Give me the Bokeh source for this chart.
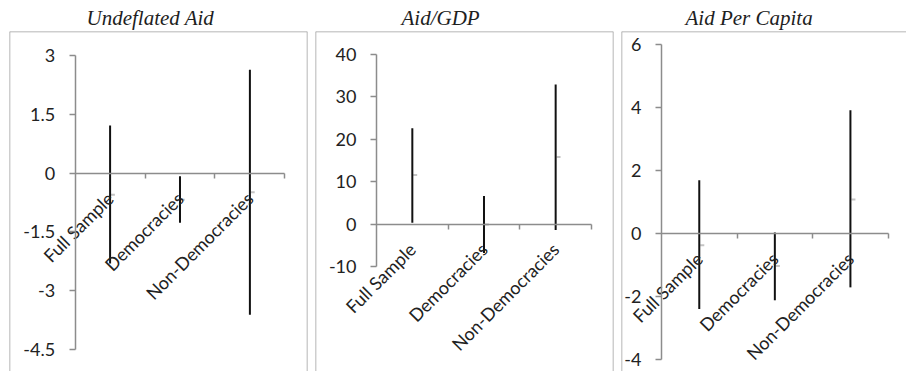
from math import pi

from bokeh.embed import file_html
from bokeh.layouts import row
from bokeh.models import (ColumnDataSource, CustomJSTickFormatter, FixedTicker,
                          LinearAxis, NumeralTickFormatter, Range1d, Span)
from bokeh.plotting import figure
from bokeh.resources import INLINE
from bokeh.transform import dodge

# ---- data -------------------------------------------------------------
categories = ["Full Sample", "Democracies", "Non-Democracies"]

undeflated_low = [-2.31, -1.27, -3.62]
undeflated_high = [1.22, -0.08, 2.65]
undeflated_est = [-0.55, -0.68, -0.49]
undeflated_ticks = [-4.5, -3, -1.5, 0, 1.5, 3]

gdp_low = [0.3, -6.8, -1.4]
gdp_high = [22.6, 6.6, 32.9]
gdp_est = [11.6, -0.1, 15.8]
gdp_ticks = [-10, 0, 10, 20, 30, 40]

pc_low = [-2.40, -2.12, -1.71]
pc_high = [1.69, 0.03, 3.91]
pc_est = [-0.37, -1.03, 1.08]
pc_ticks = [-4, -2, 0, 2, 4, 6]

titles = ["Undeflated Aid", "Aid/GDP", "Aid Per Capita"]

# ---- styling ----------------------------------------------------------
AXIS_GREY = "#8c8c8c"
BOX_GREY = "#9e9e9e"
TEXT = "#222222"
LABEL_FONT = "Lato"
LABEL_SIZE = "18px"

xs = [i + 1 for i in range(len(categories))]
bounds_x = (xs[0] - 0.5, xs[-1] + 0.5)
boundaries = [x + 0.5 for x in xs]


def panel(title, low, high, est, ticks, x_range, y_range, width,
          border_left, border_right, title_offset, right_edge=True):
    p = figure(width=width, height=371,
               x_range=Range1d(*x_range), y_range=Range1d(*y_range),
               x_axis_location=None, y_axis_location=None,
               toolbar_location=None, output_backend="svg",
               min_border_left=border_left, min_border_right=border_right,
               min_border_top=31, min_border_bottom=0)
    p.grid.visible = False
    p.outline_line_color = None
    p.background_fill_color = "white"
    p.border_fill_color = "white"

    p.title.text = title
    p.title.align = "left"
    p.title.offset = title_offset
    p.title.standoff = 4
    p.title.text_font = "Liberation Serif"
    p.title.text_font_style = "italic"
    p.title.text_font_size = "21px"
    p.title.text_color = "#1e1e1e"

    # chart-area box (open at the bottom)
    box = dict(line_color=BOX_GREY, line_width=1.5)
    p.add_layout(Span(location=y_range[1], dimension="width", **box))
    p.add_layout(Span(location=x_range[0], dimension="height", **box))
    if right_edge:
        p.add_layout(Span(location=x_range[1], dimension="height", **box))

    src = ColumnDataSource(dict(x=xs, low=low, high=high, est=est))
    p.scatter(x=dodge("x", 0.04), y="est", marker="dash", size=4,
              line_width=2, line_color="#c4c4c4", source=src)
    p.segment(x0="x", y0="low", x1="x", y1="high", line_color="#111111",
              line_width=2, source=src)

    # value axis, crossing the category axis at its left edge
    yaxis = LinearAxis(fixed_location=bounds_x[0],
                       bounds=(min(ticks), max(ticks)),
                       ticker=FixedTicker(ticks=ticks, minor_ticks=[]),
                       formatter=NumeralTickFormatter(format="0.[0]"))
    yaxis.axis_line_color = AXIS_GREY
    yaxis.axis_line_width = 1.5
    yaxis.major_tick_line_color = AXIS_GREY
    yaxis.major_tick_line_width = 1.5
    yaxis.major_tick_in = 0
    yaxis.major_tick_out = 6
    yaxis.minor_tick_line_color = None
    yaxis.major_label_standoff = 14
    yaxis.major_label_text_font = LABEL_FONT
    yaxis.major_label_text_font_size = LABEL_SIZE
    yaxis.major_label_text_color = TEXT
    p.add_layout(yaxis, "left")

    # category axis line at zero with tick marks between categories
    xline = LinearAxis(fixed_location=0, bounds=bounds_x,
                       ticker=FixedTicker(ticks=boundaries, minor_ticks=[]),
                       formatter=CustomJSTickFormatter(code="return ''"))
    xline.axis_line_color = AXIS_GREY
    xline.axis_line_width = 1.5
    xline.major_tick_line_color = AXIS_GREY
    xline.major_tick_line_width = 1.5
    xline.major_tick_in = 0
    xline.major_tick_out = 5
    xline.minor_tick_line_color = None
    p.add_layout(xline, "below")

    # slanted category names
    xlab = LinearAxis(fixed_location=0,
                      ticker=FixedTicker(ticks=xs, minor_ticks=[]),
                      major_label_overrides={x: c for x, c in zip(xs, categories)})
    xlab.axis_line_color = None
    xlab.major_tick_line_color = None
    xlab.minor_tick_line_color = None
    xlab.major_tick_in = 0
    xlab.major_tick_out = 0
    xlab.major_label_orientation = pi / 4
    xlab.major_label_standoff = 22
    xlab.major_label_text_font = LABEL_FONT
    xlab.major_label_text_font_size = LABEL_SIZE
    xlab.major_label_text_color = TEXT
    p.add_layout(xlab, "below")
    return p


p1 = panel(titles[0], undeflated_low, undeflated_high, undeflated_est,
           undeflated_ticks, (-0.439, 3.824), (-5.075, 3.627),
           width=311, border_left=9, border_right=4, title_offset=77)
p2 = panel(titles[1], gdp_low, gdp_high, gdp_est, gdp_ticks,
           (-0.351, 3.807), (-34.76, 45.42),
           width=306, border_left=4, border_right=4, title_offset=86)
p3 = panel(titles[2], pc_low, pc_high, pc_est, pc_ticks,
           (-0.029, 3.742), (-4.381, 6.413),
           width=289, border_left=4, border_right=0, title_offset=64,
           right_edge=False)

layout = row(p1, p2, p3, spacing=0)

with open("out.html", "w") as f:
    f.write(file_html(layout, INLINE))
